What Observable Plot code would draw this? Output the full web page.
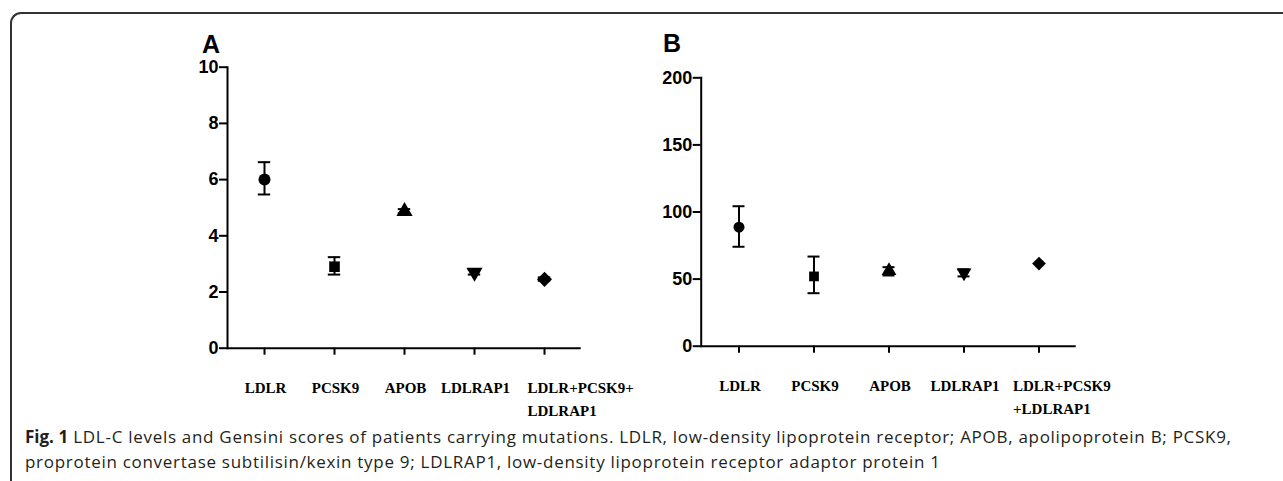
<!DOCTYPE html>
<html>
<head>
<meta charset="utf-8">
<script src="https://cdn.jsdelivr.net/npm/d3@7"></script>
<script src="https://cdn.jsdelivr.net/npm/@observablehq/plot@0.6"></script>
<style>
  html, body { margin: 0; padding: 0; background: #fff; }
  #page { position: relative; width: 1283px; height: 481px; overflow: hidden; background: #fff; }
  #frame { position: absolute; left: 10px; top: 12px; width: 1400px; height: 600px;
           border-left: 2px solid #333; border-top: 2px solid #333; border-top-left-radius: 11px; }
  .panel { position: absolute; top: 40px; }
  .letter { position: absolute; font-family: "Liberation Sans", Arial, sans-serif; font-weight: bold;
            font-size: 25px; line-height: 25px; color: #000; }
  #caption { position: absolute; left: 25px; top: 424px; font-family: "Open Sans", sans-serif;
             font-size: 17px; letter-spacing: 0.71px; line-height: 25px; color: #231f20; white-space: nowrap; }
  #caption b { font-weight: bold; letter-spacing: 0; }
</style>
</head>
<body>
<div id="page">
  <div id="frame"></div>
  <div class="letter" style="left:202px; top:32px;">A</div>
  <div class="letter" style="left:663px; top:31px;">B</div>
  <div class="panel" id="panelA" style="left:160px;"></div>
  <div class="panel" id="panelB" style="left:630px;"></div>
  <div id="caption"><b>Fig. 1</b> LDL-C levels and Gensini scores of patients carrying mutations. LDLR, low-density lipoprotein receptor; APOB, apolipoprotein B; PCSK9,<br>proprotein convertase subtilisin/kexin type 9; LDLRAP1, low-density lipoprotein receptor adaptor protein 1</div>
</div>
<script>
// ---- data ----
const categories = ["LDLR", "PCSK9", "APOB", "LDLRAP1", "LDLR+PCSK9+LDLRAP1"];
const symbols = ["circle", "square", "triangle", "triangle", "square"];
const rotations = [0, 0, 0, 180, 45];

// Panel A: LDL-C levels
const meanA = [6.0, 2.9, 4.87, 2.70, 2.45];
const lowA  = [5.47, 2.62, 4.80, 2.62, 2.40];
const highA = [6.62, 3.24, 4.95, 2.80, 2.52];
const ticksA = [0, 2, 4, 6, 8, 10];
const labelsA = ["LDLR", "PCSK9", "APOB", "LDLRAP1", "LDLR+PCSK9+\nLDLRAP1"];

// Panel B: Gensini scores
const meanB = [88.7, 52, 56.2, 54.7, 61.6];
const lowB  = [74.1, 39.5, 52.7, 52.0, null];
const highB = [104.3, 66.8, 58.9, 57.3, null];
const ticksB = [0, 50, 100, 150, 200];
const labelsB = ["LDLR", "PCSK9", "APOB", "LDLRAP1", "LDLR+PCSK9\n+LDLRAP1"];

function rows(mean, low, high) {
  return categories.map((c, i) => ({cat: c, mean: mean[i], low: low[i], high: high[i], sym: symbols[i], rot: rotations[i]}));
}

const yFont = {fontFamily: "'Liberation Sans', Arial, sans-serif", fontSize: 18, fontWeight: "bold"};
const xFont = {fontFamily: "'Liberation Serif', 'Times New Roman', serif", fontSize: 15, fontWeight: "bold"};

function panel(opts) {
  const data = rows(opts.mean, opts.low, opts.high);
  const bars = data.filter(d => d.low != null && d.high != null);
  const lab = new Map(categories.map((c, i) => [c, opts.labels[i]]));
  const main = categories.slice(0, 4);
  const last = categories.slice(4);
  const labelOpts = {label: null, tickSize: 0, tickPadding: 29, lineAnchor: "top", lineHeight: 1.53, tickFormat: d => lab.get(d), ...xFont};
  return Plot.plot({
    width: opts.width, height: 390,
    marginLeft: opts.ml, marginRight: opts.mr, marginTop: opts.mt, marginBottom: opts.mb,
    style: {background: "transparent", color: "#000", overflow: "visible"},
    x: {type: "band", domain: categories, padding: 0, axis: null},
    y: {domain: opts.ydomain, axis: null},
    symbol: {type: "identity"},
    marks: [
      Plot.axisY({ticks: opts.yticks, label: null, tickSize: 8, tickPadding: 1, strokeWidth: 2, ...yFont}),
      Plot.axisX(categories, {label: null, tickSize: 7, strokeWidth: 2, tickFormat: () => ""}),
      Plot.axisX(main, {...labelOpts, dx: 1}),
      Plot.axisX(last, {...labelOpts, textAnchor: "start", dx: opts.lastDx}),
      Plot.frame({anchor: "left", strokeWidth: 2}),
      Plot.ruleY([0], {strokeWidth: 2}),
      Plot.ruleX(bars, {x: "cat", y1: "low", y2: "high", strokeWidth: 2}),
      Plot.tickY(bars, {x: "cat", y: "low", strokeWidth: 2, insetLeft: opts.inset, insetRight: opts.inset}),
      Plot.tickY(bars, {x: "cat", y: "high", strokeWidth: 2, insetLeft: opts.inset, insetRight: opts.inset}),
      Plot.dot(data, {x: "cat", y: "mean", symbol: "sym", rotate: "rot", r: opts.r, fill: "#000", stroke: "none"})
    ]
  });
}

document.getElementById("panelA").append(panel({
  mean: meanA, low: lowA, high: highA, labels: labelsA, yticks: ticksA, ydomain: [0, 10],
  width: 440, ml: 67, mr: 19.3, mt: 26.7, mb: 82.3, inset: 28.8, r: 6, lastDx: -17
}));
document.getElementById("panelB").append(panel({
  mean: meanB, low: lowB, high: highB, labels: labelsB, yticks: ticksB, ydomain: [0, 200],
  width: 480, ml: 70.7, mr: 34.3, mt: 37.3, mb: 84.3, inset: 31.5, r: 5.5, lastDx: -26
}));
</script>
</body>
</html>
